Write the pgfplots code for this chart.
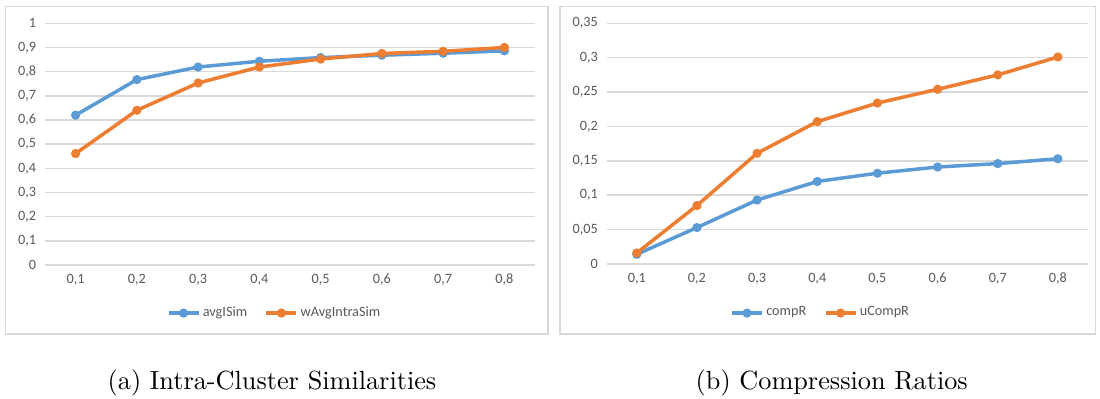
\documentclass[border=0pt]{standalone}
\usepackage{fontspec}
\usepackage{pgfplots}
\pgfplotsset{compat=1.18}
\newfontfamily\calibri{Carlito}
\definecolor{xblue}{HTML}{5B9BD5}
\definecolor{xorange}{HTML}{ED7D31}
\definecolor{xgrid}{HTML}{D9D9D9}
\definecolor{xtext}{HTML}{595959}

\pgfplotsset{
 excel/.style={
  scale only axis,
  axis line style={draw=none},
  major tick length=0pt,
  ymajorgrids,
  major grid style={xgrid, line width=0.6pt},
  xmin=0.5, xmax=8.5,
  xtick={1,...,8},
  xticklabels={{0,1},{0,2},{0,3},{0,4},{0,5},{0,6},{0,7},{0,8}},
  tick label style={font=\calibri\fontsize{5.7}{6.5}\selectfont, text=xtext},
  yticklabel style={/pgf/number format/.cd, fixed, use comma, assume math mode=true},
  legend style={draw=none, fill=none, font=\calibri\fontsize{5.7}{6.5}\selectfont, text=xtext,
    legend columns=-1, anchor=center,
    /tikz/every even column/.append style={column sep=6pt},
    nodes={inner sep=1pt}},
  legend image code/.code={\draw[##1, mark repeat=2, mark phase=2] plot coordinates {(0pt,0pt) (6pt,0pt) (12pt,0pt)};},
  every axis plot/.append style={line width=1.4pt, mark=*, mark size=1.1pt},
 }
}

\pgfplotstableread{
x avg wavg
1 0.620 0.461
2 0.767 0.640
3 0.819 0.753
4 0.843 0.819
5 0.858 0.852
6 0.868 0.875
7 0.876 0.884
8 0.886 0.900
}\simtable

\pgfplotstableread{
x comp ucomp
1 0.014 0.016
2 0.053 0.085
3 0.093 0.161
4 0.120 0.207
5 0.132 0.234
6 0.141 0.254
7 0.146 0.275
8 0.153 0.301
}\comptable

\begin{document}
\begin{tikzpicture}
\path[use as bounding box] (0,0) rectangle (440pt,159.6pt);
\draw[xgrid, line width=0.6pt] (2.2pt,26pt) rectangle (219.2pt,156.9pt);
\draw[xgrid, line width=0.6pt] (224pt,26pt) rectangle (438.2pt,156.9pt);

\begin{axis}[excel, at={(18pt,53.6pt)}, anchor=south west,
  width=196pt, height=96.68pt,
  ymin=0, ymax=1, ytick={0,0.1,...,1},
  legend style={at={(0.469,-0.199)}}]
\addplot[xblue, mark options={fill=xblue}] table[x=x, y=avg] {\simtable};
\addlegendentry{avgISim}
\addplot[xorange, mark options={fill=xorange}] table[x=x, y=wavg] {\simtable};
\addlegendentry{wAvgIntraSim}
\end{axis}

\begin{axis}[excel, at={(242.68pt,54pt)}, anchor=south west,
  width=192.52pt, height=96.28pt,
  ymin=0, ymax=0.35, ytick={0,0.05,...,0.35},
  legend style={at={(0.445,-0.204)}}]
\addplot[xblue, mark options={fill=xblue}] table[x=x, y=comp] {\comptable};
\addlegendentry{compR}
\addplot[xorange, mark options={fill=xorange}] table[x=x, y=ucomp] {\comptable};
\addlegendentry{uCompR}
\end{axis}

\node[font=\fontsize{10.5}{12}\selectfont, anchor=base] at (108.8pt,3.9pt) {(a) Intra-Cluster Similarities};
\node[font=\fontsize{10.5}{12}\selectfont, anchor=base] at (332.7pt,3.9pt) {(b) Compression Ratios};
\end{tikzpicture}
\end{document}
